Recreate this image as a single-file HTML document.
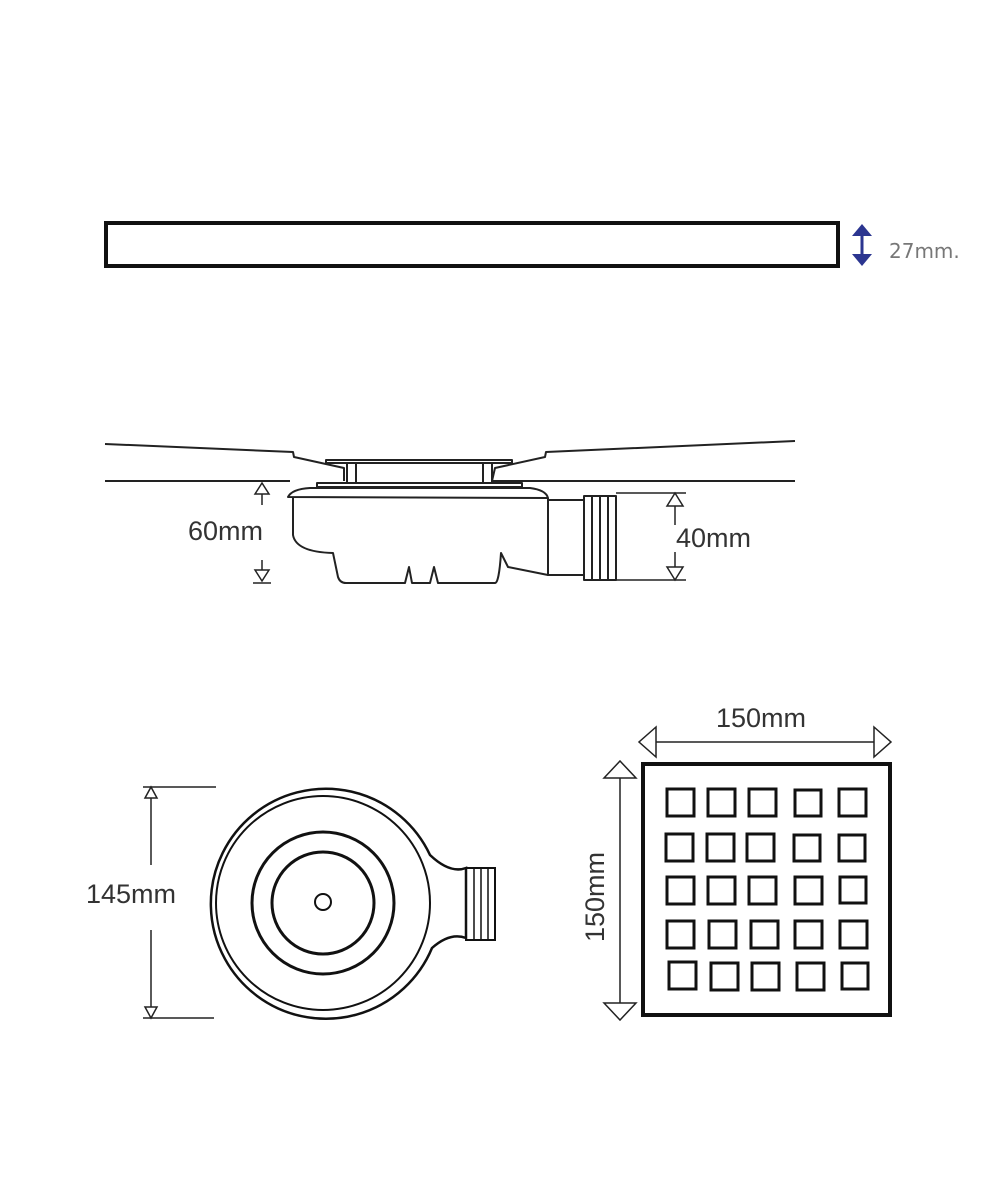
<!DOCTYPE html>
<html><head><meta charset="utf-8"><style>
html,body{margin:0;padding:0;background:#fff}
svg{display:block}
text{font-family:"Liberation Sans",sans-serif}
</style></head><body>
<svg width="984" height="1194" viewBox="0 0 984 1194" xmlns="http://www.w3.org/2000/svg">
<!-- top bar -->
<rect x="106" y="223" width="732" height="43" fill="none" stroke="#111" stroke-width="4"/>
<g fill="#2b3590" stroke="#2b3590">
<line x1="862" y1="228" x2="862" y2="262" stroke-width="3"/>
<polygon points="852,236 862,224 872,236" stroke="none"/>
<polygon points="852,254 862,266 872,254" stroke="none"/>
</g>
<text x="889" y="258" font-size="20" fill="#777" style="font-family:'DejaVu Sans',sans-serif">27mm.</text>

<!-- section view -->
<g fill="none" stroke="#222" stroke-width="2" stroke-linejoin="round">
<polyline points="105,444 293,452 294,457 344,468 344,481"/>
<line x1="105" y1="481" x2="290" y2="481"/>
<polyline points="795,441 546,452 545,457 495,468 492,481"/>
<line x1="492" y1="481" x2="795" y2="481"/>
<rect x="326" y="460" width="186" height="3"/>
<line x1="347" y1="463" x2="347" y2="483"/><line x1="356" y1="463" x2="356" y2="483"/>
<line x1="483" y1="463" x2="483" y2="483"/><line x1="492" y1="463" x2="492" y2="483"/>
<rect x="317" y="483" width="205" height="4"/>
<path d="M288,497 Q292,489 310,488 L530,488 Q546,490 548,498 Z"/>
<path d="M293,498 L293,535 Q296,552 333,553 L338,577 Q340,583 346,583 L405,583 L409,567 L412,583 L430,583 L434,567 L438,583 L495,583 Q499,583 501,553 L508,567 L548,575 L548,498"/>
<rect x="548" y="500" width="36" height="75"/>
<path d="M584,496 L616,496 L616,580 L584,580 Z"/>
<line x1="592" y1="496" x2="592" y2="580"/><line x1="600" y1="496" x2="600" y2="580"/><line x1="608" y1="496" x2="608" y2="580"/>
</g>
<g fill="none" stroke="#222" stroke-width="1.5">
<line x1="262" y1="483" x2="262" y2="505"/><line x1="262" y1="560" x2="262" y2="581"/>
<polygon points="255,494 262,483 269,494" fill="#fff"/>
<polygon points="255,570 262,581 269,570" fill="#fff"/>
<line x1="253" y1="583" x2="271" y2="583"/>
<line x1="616" y1="493" x2="686" y2="493"/><line x1="616" y1="580" x2="686" y2="580"/>
<line x1="675" y1="493" x2="675" y2="525"/><line x1="675" y1="552" x2="675" y2="580"/>
<polygon points="667,506 675,493 683,506" fill="#fff"/>
<polygon points="667,567 675,580 683,567" fill="#fff"/>
</g>
<text x="188" y="540" font-size="27" fill="#333">60mm</text>
<text x="676" y="547" font-size="27" fill="#333">40mm</text>

<!-- plan view -->
<g fill="none" stroke="#111" stroke-width="2.5">
<path d="M430,855 A115,115 0 1 0 432,948 Q450,932 466,938 L466,868 Q450,874 430,855 Z"/>
<circle cx="323" cy="903" r="107" stroke-width="2"/>
<circle cx="323" cy="903" r="71" stroke-width="3"/>
<circle cx="323" cy="903" r="51" stroke-width="3"/>
<circle cx="323" cy="902" r="8" stroke-width="2"/>
<rect x="466" y="868" width="29" height="72" stroke-width="2"/>
<line x1="474" y1="868" x2="474" y2="940" stroke-width="1.5"/><line x1="481" y1="868" x2="481" y2="940" stroke-width="1.5"/><line x1="488" y1="868" x2="488" y2="940" stroke-width="1.5"/>
</g>
<g fill="none" stroke="#222" stroke-width="1.5">
<line x1="143" y1="787" x2="216" y2="787"/><line x1="143" y1="1018" x2="214" y2="1018"/>
<line x1="151" y1="787" x2="151" y2="865"/><line x1="151" y1="930" x2="151" y2="1018"/>
<polygon points="145,798 151,787 157,798" fill="#fff"/>
<polygon points="145,1007 151,1018 157,1007" fill="#fff"/>
</g>
<text x="86" y="903" font-size="27" fill="#333">145mm</text>

<!-- grate -->
<rect x="643" y="764" width="247" height="251" fill="none" stroke="#111" stroke-width="4"/>
<g fill="none" stroke="#111" stroke-width="3">
<rect x="667" y="789" width="27" height="27"/><rect x="708" y="789" width="27" height="27"/><rect x="749" y="789" width="27" height="27"/><rect x="795" y="790" width="26" height="26"/><rect x="839" y="789" width="27" height="27"/>
<rect x="666" y="834" width="27" height="27"/><rect x="707" y="834" width="27" height="27"/><rect x="747" y="834" width="27" height="27"/><rect x="794" y="835" width="26" height="26"/><rect x="839" y="835" width="26" height="26"/>
<rect x="667" y="877" width="27" height="27"/><rect x="708" y="877" width="27" height="27"/><rect x="749" y="877" width="27" height="27"/><rect x="795" y="877" width="27" height="27"/><rect x="840" y="877" width="26" height="26"/>
<rect x="667" y="921" width="27" height="27"/><rect x="709" y="921" width="27" height="27"/><rect x="751" y="921" width="27" height="27"/><rect x="795" y="921" width="27" height="27"/><rect x="840" y="921" width="27" height="27"/>
<rect x="669" y="962" width="27" height="27"/><rect x="711" y="963" width="27" height="27"/><rect x="752" y="963" width="27" height="27"/><rect x="797" y="963" width="27" height="27"/><rect x="842" y="963" width="26" height="26"/>
</g>
<g fill="#fff" stroke="#222" stroke-width="1.5">
<line x1="655" y1="742" x2="875" y2="742"/>
<polygon points="656,727 639,742 656,757"/>
<polygon points="874,727 891,742 874,757"/>
<line x1="620" y1="778" x2="620" y2="1003"/>
<polygon points="604,778 620,761 636,778"/>
<polygon points="604,1003 620,1020 636,1003"/>
</g>
<text x="716" y="727" font-size="27" fill="#333">150mm</text>
<text transform="translate(604,942) rotate(-90)" font-size="27" fill="#333">150mm</text>
</svg>
</body></html>
